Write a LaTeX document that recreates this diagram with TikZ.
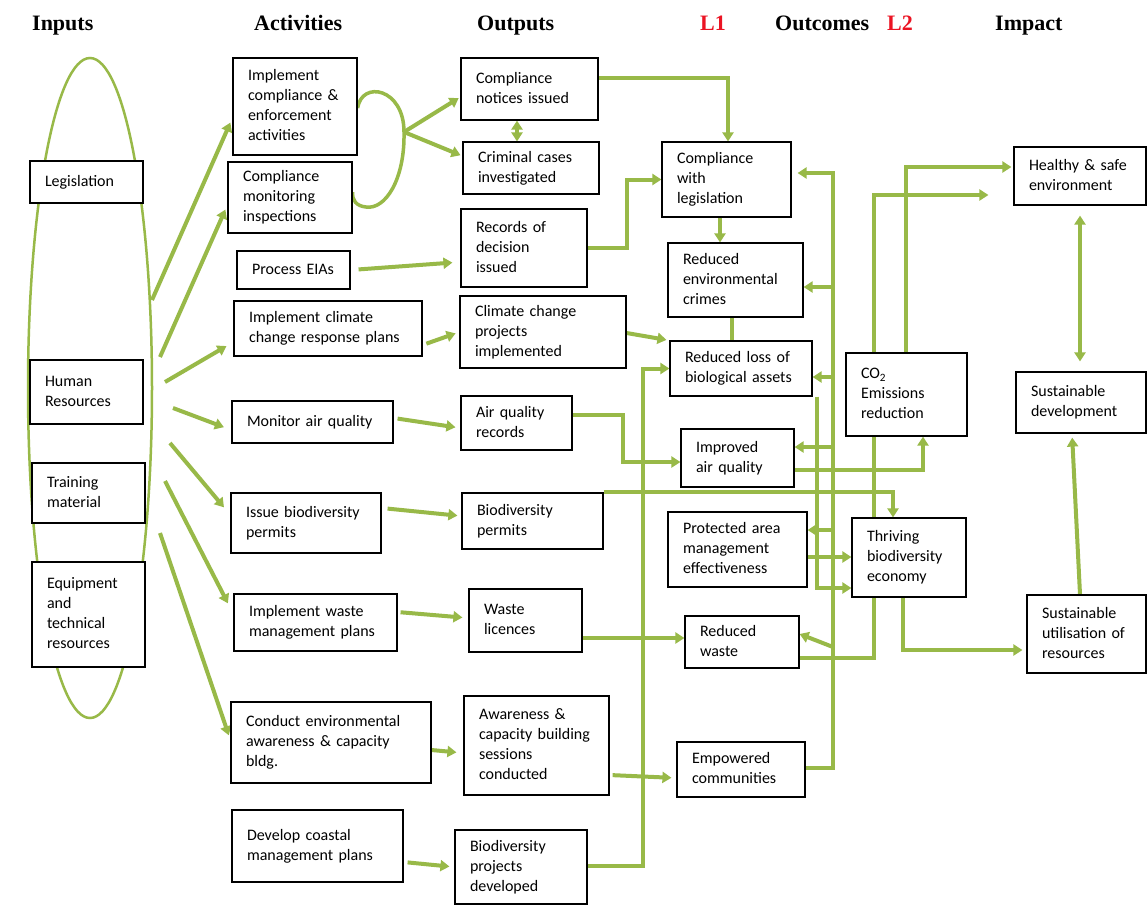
\documentclass[tikz,border=0pt]{standalone}
\usepackage{fontspec}
\setmainfont{Carlito}
\newfontfamily\headfont{Liberation Serif}
\usetikzlibrary{arrows.meta,shapes.geometric,calc}
\definecolor{leaf}{RGB}{152,185,72}
\definecolor{headred}{RGB}{235,20,35}
\pgfdeclarelayer{paper}
\pgfdeclarelayer{wires}
\pgfsetlayers{paper,wires,main}
\newcommand\ls[1]{\begin{tabular}{@{}l@{}}#1\end{tabular}}
% box from corner (x1,y1) to corner (x2,y2), text set flush left
\newcommand\obox[6]{%
  \pgfmathsetmacro\bw{#4-#2}%
  \pgfmathsetmacro\bh{#5-#3}%
  \pgfmathsetmacro\bcx{(#2+#4)/2}%
  \pgfmathsetmacro\bcy{(#3+#5)/2}%
  \pgfmathsetmacro\btw{#4-#2-30}%
  \node[box, minimum width=\bw pt, minimum height=\bh pt, text width=\btw pt] (#1) at (\bcx,\bcy) {\ls{#6}};}
\tikzset{
  box/.style={draw=black, line width=1.2pt, fill=white, inner xsep=15pt, inner ysep=0pt,
    font=\fontsize{16}{20}\selectfont, align=left},
  hd/.style={font=\headfont\bfseries\fontsize{22}{26}\selectfont, inner sep=0pt, anchor=base west},
  wire/.style={draw=leaf, line width=4pt},
  arr/.style={wire, -{Triangle[length=9pt,width=11pt]}},
  both/.style={wire, {Triangle[length=9pt,width=11pt]}-{Triangle[length=9pt,width=11pt]}},
}
\begin{document}
\begin{tikzpicture}[x=1pt,y=-1pt]
\begin{pgfonlayer}{paper}
  \fill[white] (0,0) rectangle (1147,906);
\end{pgfonlayer}
\useasboundingbox (0,0) rectangle (1147,906);

% column headings
\node[hd] (hin) at (32,30) {Inputs};
\node[hd] (hact) at (254,30) {Activities};
\node[hd] (hout) at (477,30) {Outputs};
\node[hd, text=headred] (hl1) at (700,30) {L1};
\node[hd] (hoc) at (775,30) {Outcomes};
\node[hd, text=headred] (hl2) at (887,30) {L2};
\node[hd] (himp) at (995,30) {Impact};

% inputs
\node[ellipse, draw=leaf, line width=2.5pt, minimum width=124pt, minimum height=660pt, inner sep=0pt] (inpring) at (90,388) {};
\obox{leg}{30}{161}{143}{203}{Legislation}
\obox{hr}{30}{360}{143}{424}{Human\\Resources}
\obox{tm}{32}{463}{145}{523}{Training\\material}
\obox{eq}{32}{562}{145}{667}{Equipment\\and\\technical\\resources}

% activities
\obox{a1}{233}{58}{357}{155}{Implement\\compliance \&\\enforcement\\activities}
\obox{a2}{228}{162}{352}{233}{Compliance\\monitoring\\inspections}
\obox{a3}{237}{251}{350}{289}{Process EIAs}
\obox{a4}{234}{301}{422}{356}{Implement climate\\change response plans}
\obox{a5}{232}{401}{393}{443}{Monitor air quality}
\obox{a6}{231}{493}{381}{553}{Issue biodiversity\\permits}
\obox{a7}{234}{594}{397}{651}{Implement waste\\management plans}
\obox{a8}{231}{702}{431}{783}{Conduct environmental\\awareness \& capacity\\bldg.}
\obox{a9}{232}{810}{403}{882}{Develop coastal\\management plans}

% outputs
\obox{o1}{461}{58}{598}{120}{Compliance\\notices issued}
\obox{o2}{463}{142}{599}{194}{Criminal cases\\investigated}
\obox{o3}{461}{209}{587}{287}{Records of\\decision\\issued}
\obox{o4}{460}{296}{626}{368}{Climate change\\projects\\implemented}
\obox{o5}{461}{396}{572}{450}{Air quality\\records}
\obox{o6}{462}{493}{603}{549}{Biodiversity\\permits}
\obox{o7}{469}{589}{582}{652}{Waste\\licences}
\obox{o8}{464}{696}{609}{795}{Awareness \&\\capacity building\\sessions\\conducted}
\obox{o9}{455}{830}{587}{904}{Biodiversity\\projects\\developed}

% outcomes, level 1
\obox{c1}{662}{142}{791}{217}{Compliance\\with\\legislation}
\obox{c2}{668}{243}{803}{317}{Reduced\\environmental\\crimes}
\obox{c3}{670}{341}{812}{396}{Reduced loss of\\biological assets}
\obox{c4}{681}{429}{794}{487}{Improved\\air quality}
\obox{c5}{668}{512}{807}{587}{Protected area\\management\\effectiveness}
\obox{c6}{685}{616}{799}{668}{Reduced\\waste}
\obox{c7}{677}{742}{805}{797}{Empowered\\communities}

% outcomes, level 2
\obox{d1}{846}{353}{967}{436}{CO\textsubscript{2}\\Emissions\\reduction}
\obox{d2}{852}{518}{966}{597}{Thriving\\biodiversity\\economy}

% impact
\obox{i1}{1014}{147}{1146}{205}{Healthy \& safe\\environment}
\obox{i2}{1016}{372}{1146}{433}{Sustainable\\development}
\obox{i3}{1027}{595}{1146}{673}{Sustainable\\utilisation of\\resources}

\begin{pgfonlayer}{wires}
  % inputs fan out to the activities
  \coordinate (s1) at (152,300);
  \coordinate (s2) at (160,357);
  \coordinate (s3) at (165,382);
  \coordinate (s4) at (173,408);
  \coordinate (s5) at (170,443);
  \coordinate (s6) at (165,481);
  \coordinate (s7) at (160,533);
  \draw[arr, shorten >=5pt] (s1) -- (a1.west |- 0,118);
  \draw[arr, shorten >=5pt] (s2) -- (a2.west |- 0,205);
  \draw[arr, shorten >=8pt] (s3) -- (a4.west |- 0,342);
  \draw[arr, shorten >=8pt] (s4) -- (a5.west |- 0,430);
  \draw[arr, shorten >=10pt] (s5) -- (a6.west |- 0,515);
  \draw[arr, shorten >=12pt] (s6) -- (a7.west |- 0,614);
  \draw[arr, shorten >=5pt] (s7) -- (a8.west |- 0,740);

  % compliance loop
  \coordinate (lp) at (404,132);
  \draw[wire, line width=3.5pt] (a1.east |- 0,108) .. controls (362,80) and (404,88) .. (lp)
     .. controls (405,180) and (385,210) .. (366,207) .. controls (356,206) and (352,200) .. (a2.east |- 0,192);
  \draw[arr, shorten >=2pt] (lp) -- (o1.west |- 0,97);
  \draw[arr, shorten >=2pt] (lp) -- (o2.west |- 0,156);
  \draw[both] (517,0 |- o1.south) -- (517,0 |- o2.north);

  % activities to outputs
  \draw[arr, shorten <=8pt, shorten >=8pt] (a3.east) -- (o3.west |- 0,262);
  \draw[arr, shorten <=4pt, shorten >=4pt] (a4.east |- 0,345) -- (o4.west |- 0,332);
  \draw[arr, shorten <=4pt, shorten >=5pt] (a5.east |- 0,418) -- (o5.west |- 0,428);
  \draw[arr, shorten <=6pt, shorten >=4pt] (a6.east |- 0,508) -- (o6.west |- 0,516);
  \draw[arr, shorten <=3pt, shorten >=6pt] (a7.east |- 0,612) -- (o7.west |- 0,618);
  \draw[arr, shorten >=7pt] (a8.east |- 0,750) -- (o8.west |- 0,753);
  \draw[arr, shorten <=4pt, shorten >=5pt] (a9.east |- 0,862) -- (o9.west |- 0,867);

  % outputs to outcomes
  \draw[arr] (o1.east |- 0,78) -| (c1.north -| 728,0);
  \draw[arr] (o3.east |- 0,248) -- (627,248) |- (c1.west);
  \draw[arr] (c1.south -| 720,0) -- (c2.north -| 720,0);
  \draw[wire] (c2.south -| 732,0) -- (c3.north -| 732,0);
  \draw[arr, shorten >=3pt] (o4.east |- 0,333) -- (c3.north west);
  \draw[arr] (o5.east |- 0,415) -- (623,415) |- (c4.west |- 0,462);
  \draw[arr] (o6.north east) -| (d2.north -| 893,0);
  \draw[arr] (o7.east |- 0,638) -- (c6.west |- 0,638);
  \draw[arr, shorten <=3pt, shorten >=5pt] (o8.east |- 0,775) -- (c7.west |- 0,778);
  \draw[arr] (o9.east |- 0,866) -- (643,866) |- (c3.west);

  % empowered communities feed the other outcomes
  \coordinate (trunk) at (833,768);
  \draw[arr, shorten >=6pt] (c7.east |- trunk) -- (trunk) |- (c1.east |- 0,173);
  \draw[arr] (trunk |- 0,287) -- (c2.east |- 0,287);
  \draw[arr] (trunk |- 0,377) -- (c3.east |- 0,377);
  \draw[arr] (trunk |- 0,447) -- (c4.east |- 0,447);
  \draw[arr] (trunk |- 0,530) -- (c5.east |- 0,530);
  \draw[arr] (trunk |- 0,647) -- (c6.east |- 0,634);

  % level 1 to level 2
  \draw[arr] (c3.south -| 817,0) |- (d2.west |- 0,588);
  \draw[arr] (c5.east |- 0,557) -- (d2.west |- 0,557);
  \draw[arr] (c4.east |- 0,470) -| (d1.south -| 923,0);

  % towards impact
  \draw[arr, shorten >=25pt] (c6.east |- 0,658) -- (874,658) |- (i1.west |- 0,195);
  \draw[arr, shorten >=2pt] (d1.north -| 906,0) |- (i1.west |- 0,167);
  \draw[arr, shorten >=4pt] (d2.south -| 903,0) |- (i3.west |- 0,650);
  \draw[arr, shorten >=4pt] (i3.north -| 1080,0) -- (i2.south -| 1072,0);
  \draw[both, shorten >=10pt, shorten <=10pt] (i2.north -| 1080,0) -- (i1.south -| 1080,0);
\end{pgfonlayer}
\end{tikzpicture}
\end{document}
